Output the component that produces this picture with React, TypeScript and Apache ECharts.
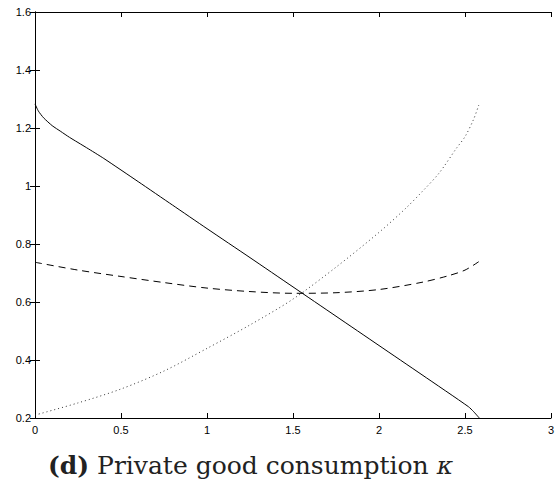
import React, { useEffect, useRef } from "react";
import * as echarts from "echarts";

const solidX = [0, 0.02, 0.05, 0.1, 0.15, 0.2, 0.3, 0.4, 0.6, 0.8, 1.0, 1.25, 1.5, 1.75, 2.0, 2.25, 2.52, 2.55, 2.583];
const solidY = [1.283, 1.258, 1.235, 1.208, 1.188, 1.168, 1.132, 1.095, 1.015, 0.934, 0.853, 0.753, 0.652, 0.551, 0.45, 0.349, 0.239, 0.222, 0.2];

const dashX = [0, 0.25, 0.5, 0.75, 1.0, 1.25, 1.5, 1.75, 2.0, 2.25, 2.4, 2.5, 2.58];
const dashY = [0.737, 0.71, 0.688, 0.667, 0.648, 0.636, 0.63, 0.632, 0.643, 0.668, 0.69, 0.71, 0.739];

const dotX = [0, 0.25, 0.5, 0.75, 1.0, 1.25, 1.5, 1.75, 2.0, 2.15, 2.25, 2.35, 2.45, 2.5, 2.55, 2.58];
const dotY = [0.21, 0.252, 0.3, 0.362, 0.44, 0.521, 0.61, 0.72, 0.84, 0.92, 0.98, 1.045, 1.13, 1.17, 1.23, 1.279];

const xTicks = { min: 0, max: 3, interval: 0.5 };
const yTicks = { min: 0.2, max: 1.6, interval: 0.2 };

const captionBold = "(d)";
const captionText = " Private good consumption ";
const captionSym = "κ";

function pairs(xs: number[], ys: number[]) {
  return xs.map((x, i) => [x, ys[i]]);
}

export default function App() {
  const ref = useRef<HTMLDivElement>(null);
  useEffect(() => {
    if (!ref.current) return;
    const chart = echarts.init(ref.current, undefined, { renderer: "svg" });
    const axisFont = { color: "#000", fontFamily: "Liberation Sans", fontSize: 11 };
    const line = { show: true, lineStyle: { color: "#000", width: 1 } };
    const tick = { show: true, inside: true, length: 5, lineStyle: { color: "#000", width: 1 } };
    chart.setOption({
      animation: false,
      backgroundColor: "#fff",
      grid: { left: 35, right: 9, top: 12, bottom: 71 },
      xAxis: [
        {
          type: "value", position: "bottom", ...xTicks,
          axisLine: line, axisTick: tick, splitLine: { show: false },
          axisLabel: { ...axisFont, margin: 6 },
        },
        {
          type: "value", position: "top", ...xTicks,
          axisLine: line, axisTick: tick, splitLine: { show: false },
          axisLabel: { show: false },
        },
      ],
      yAxis: [
        {
          type: "value", position: "left", ...yTicks,
          axisLine: line, axisTick: tick, splitLine: { show: false },
          axisLabel: { ...axisFont, margin: 4 },
        },
        {
          type: "value", position: "right", ...yTicks,
          axisLine: line, axisTick: tick, splitLine: { show: false },
          axisLabel: { show: false },
        },
      ],
      series: [
        {
          type: "line", data: pairs(solidX, solidY), showSymbol: false, smooth: 0.2,
          lineStyle: { color: "#000", width: 1, type: "solid" },
        },
        {
          type: "line", data: pairs(dashX, dashY), showSymbol: false, smooth: 0.3,
          lineStyle: { color: "#000", width: 1, type: [7, 5] },
        },
        {
          type: "line", data: pairs(dotX, dotY), showSymbol: false, smooth: 0.3,
          lineStyle: { color: "#333", width: 1, type: [1, 3] },
        },
      ],
      graphic: [
        {
          type: "text", left: 48, top: 453,
          style: {
            text: `{b|${captionBold}}{n|${captionText}}{i|${captionSym}}`,
            rich: {
              b: { fontFamily: "DejaVu Serif", fontWeight: "bold", fontSize: 25, fill: "#222" },
              n: { fontFamily: "DejaVu Serif", fontSize: 25, fill: "#222" },
              i: { fontFamily: "DejaVu Serif", fontStyle: "italic", fontSize: 25, fill: "#222" },
            },
          },
        },
      ],
    });
    return () => chart.dispose();
  }, []);
  return <div ref={ref} style={{ position: "fixed", left: 0, top: 0, width: 560, height: 489 }} />;
}
